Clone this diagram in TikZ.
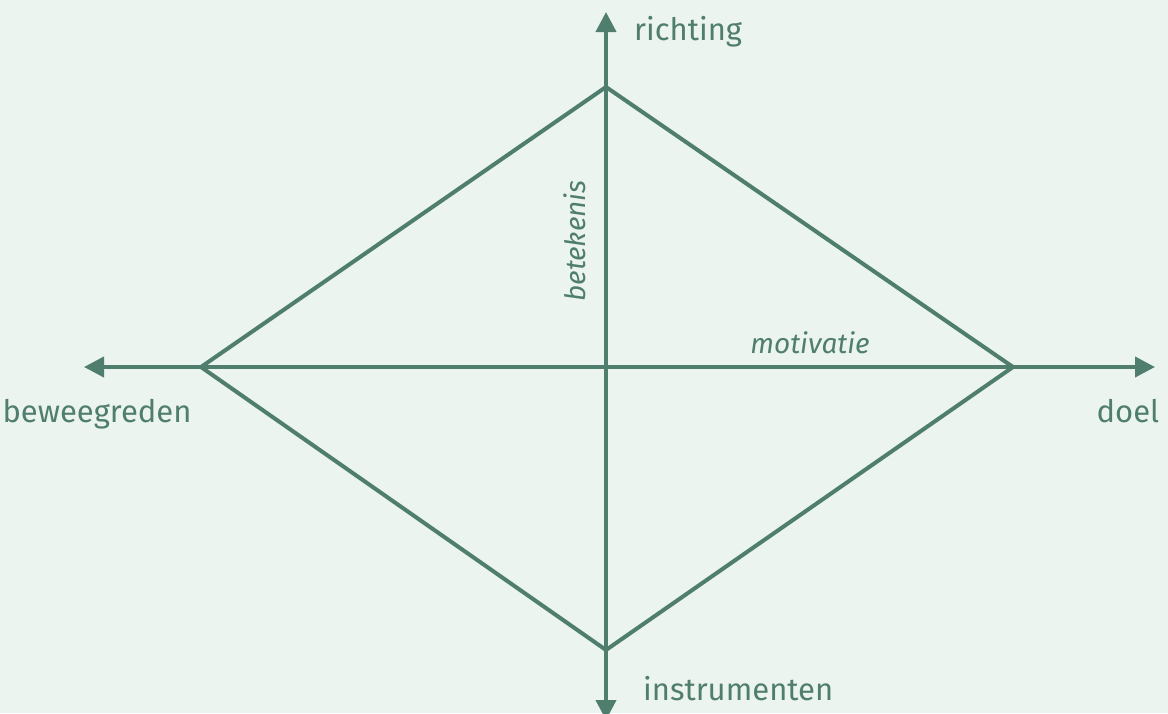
\documentclass[tikz,border=0pt]{standalone}
\usepackage{fontspec}
\setmainfont{Fira Sans}
\usetikzlibrary{arrows.meta}
\definecolor{bg}{RGB}{235,244,239}
\definecolor{ln}{RGB}{80,126,110}
\tikzset{
  axis/.style={line width=4pt, draw=ln, -{Triangle[length=20pt,width=20pt]}},
  edge/.style={line width=4pt, draw=ln, line join=miter},
  lbl/.style={text=ln, font=\fontsize{31}{34}\selectfont, inner sep=0pt},
  ilbl/.style={text=ln, font=\fontsize{28}{32}\selectfont\itshape, inner sep=0pt}
}
\begin{document}
\begin{tikzpicture}[x=1pt,y=-1pt]
\fill[bg] (0,0) rectangle (1168,713);
\useasboundingbox (0,0) rectangle (1168,713);
\coordinate (c) at (606,367);
\coordinate (top) at (606,87);
\coordinate (right) at (1013,367);
\coordinate (bottom) at (606,650);
\coordinate (left) at (201,367);
\coordinate (tN) at (606,12);
\coordinate (tS) at (606,720);
\coordinate (tW) at (84,367);
\coordinate (tE) at (1155,367);
\draw[axis] (c) -- (tN);
\draw[axis] (c) -- (tS);
\draw[axis] (c) -- (tW);
\draw[axis] (c) -- (tE);
\draw[edge] (top) -- (right) -- (bottom) -- (left) -- cycle;
\node[lbl, anchor=west] (richting) at (634,32) {richting};
\node[lbl] (beweegreden) at (97,414) {beweegreden};
\node[lbl] (doel) at (1128,411) {doel};
\node[lbl, anchor=west] (instrumenten) at (643,689) {instrumenten};
\node[ilbl, rotate=90] (betekenis) at (575,241) {betekenis};
\node[ilbl] (motivatie) at (810,343) {motivatie};
\end{tikzpicture}
\end{document}
